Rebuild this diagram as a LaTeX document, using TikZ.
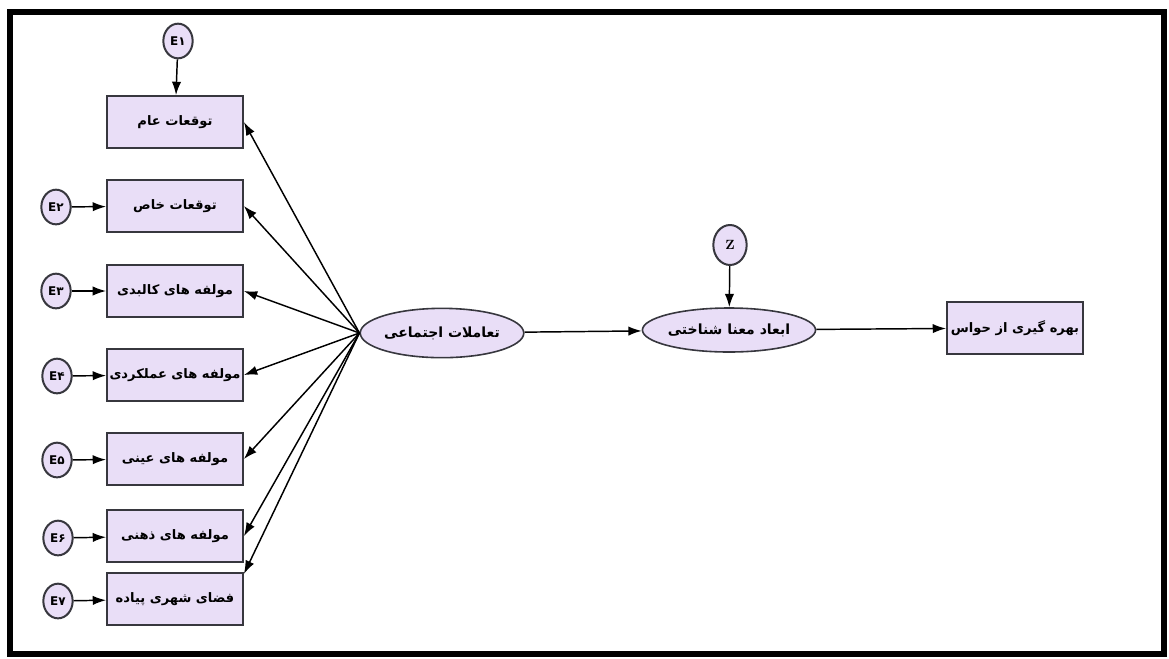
\documentclass[tikz,border=0pt]{standalone}
\usepackage{fontspec}
\usepackage{xcolor}
\usepackage{tikz}
\usetikzlibrary{arrows.meta,shapes.geometric}
\newfontfamily\farsifont[Script=Arabic]{DejaVu Sans}
\TeXXeTstate=1
\definecolor{boxfill}{RGB}{233,222,247}
\definecolor{boxline}{RGB}{55,55,62}
\tikzset{every picture/.style={line width=0.75pt}}
\tikzset{
  obsbox/.style={draw=boxline, line width=1.4pt, fill=boxfill, minimum width=102pt, minimum height=39pt, inner sep=0pt, font=\farsifont\fontsize{9.8}{12}\selectfont\bfseries},
  latent/.style={ellipse, draw=boxline, line width=1.2pt, fill=boxfill, inner sep=0pt, font=\farsifont\fontsize{10.5}{13}\selectfont\bfseries},
  errc/.style={ellipse, draw=boxline, line width=1.5pt, fill=boxfill, minimum width=22pt, minimum height=26pt, inner sep=0pt, font=\farsifont\fontsize{9}{11}\selectfont\bfseries},
  arr/.style={-{Latex[length=10pt,width=7pt]}, line width=1.1pt, draw=black}
}
\begin{document}
\begin{tikzpicture}[x=0.75pt,y=0.75pt,yscale=-1,xscale=1]
\useasboundingbox (0,0) rectangle (1169,658);

%Shape: Frame
\draw [line width=4.5pt] (10,11.5) rectangle (1164,653.5);

%Shape: Rectangles (indicators)
\node [obsbox] (b1) at (175,122) {\beginR توقعات عام\endR};
\node [obsbox] (b2) at (175,206) {\beginR توقعات خاص\endR};
\node [obsbox] (b3) at (175,291) {\beginR مولفه های کالبدی\endR};
\node [obsbox] (b4) at (175,375) {\beginR مولفه های عملکردی\endR};
\node [obsbox] (b5) at (175,459) {\beginR مولفه های عینی\endR};
\node [obsbox] (b6) at (175,536) {\beginR مولفه های ذهنی\endR};
\node [obsbox] (b7) at (175,599) {\beginR فضای شهری پیاده\endR};

%Shape: Ellipses (errors)
\node [errc] (e1) at (178,41) {E۱};
\node [errc] (e2) at (56,207) {E۲};
\node [errc] (e3) at (56,291) {E۳};
\node [errc] (e4) at (57,376) {E۴};
\node [errc] (e5) at (57,460) {E۵};
\node [errc] (e6) at (58,538) {E۶};
\node [errc] (e7) at (58,601) {E۷};

%Shape: Ellipses (latent)
\node [latent, minimum width=112pt, minimum height=37pt] (soc) at (442,333) {\beginR تعاملات اجتماعی\endR};
\node [latent, minimum width=111pt, minimum height=33pt] (mean) at (729,330) {\beginR ابعاد معنا شناختی\endR};
\node [errc, minimum width=25pt, minimum height=30pt, font=\fontsize{10}{12}\selectfont\bfseries] (z) at (730,245) {Z};

%Shape: Rectangle (outcome)
\node [obsbox] (sens) at (1015,328) {\beginR بهره گیری از حواس\endR};

%Straight Lines
\draw [arr] (e1) -- (b1);
\foreach \i in {2,...,7} {
  \draw [arr] (e\i) -- (b\i);
}
\foreach \i in {1,...,6} {
  \draw [arr] (soc.west) -- (b\i.east);
}
\draw [arr] (soc.west) -- (b7.20);
\draw [arr] (soc) -- (mean);
\draw [arr] (z) -- (mean);
\draw [arr] (mean) -- (sens);

\end{tikzpicture}
\end{document}
